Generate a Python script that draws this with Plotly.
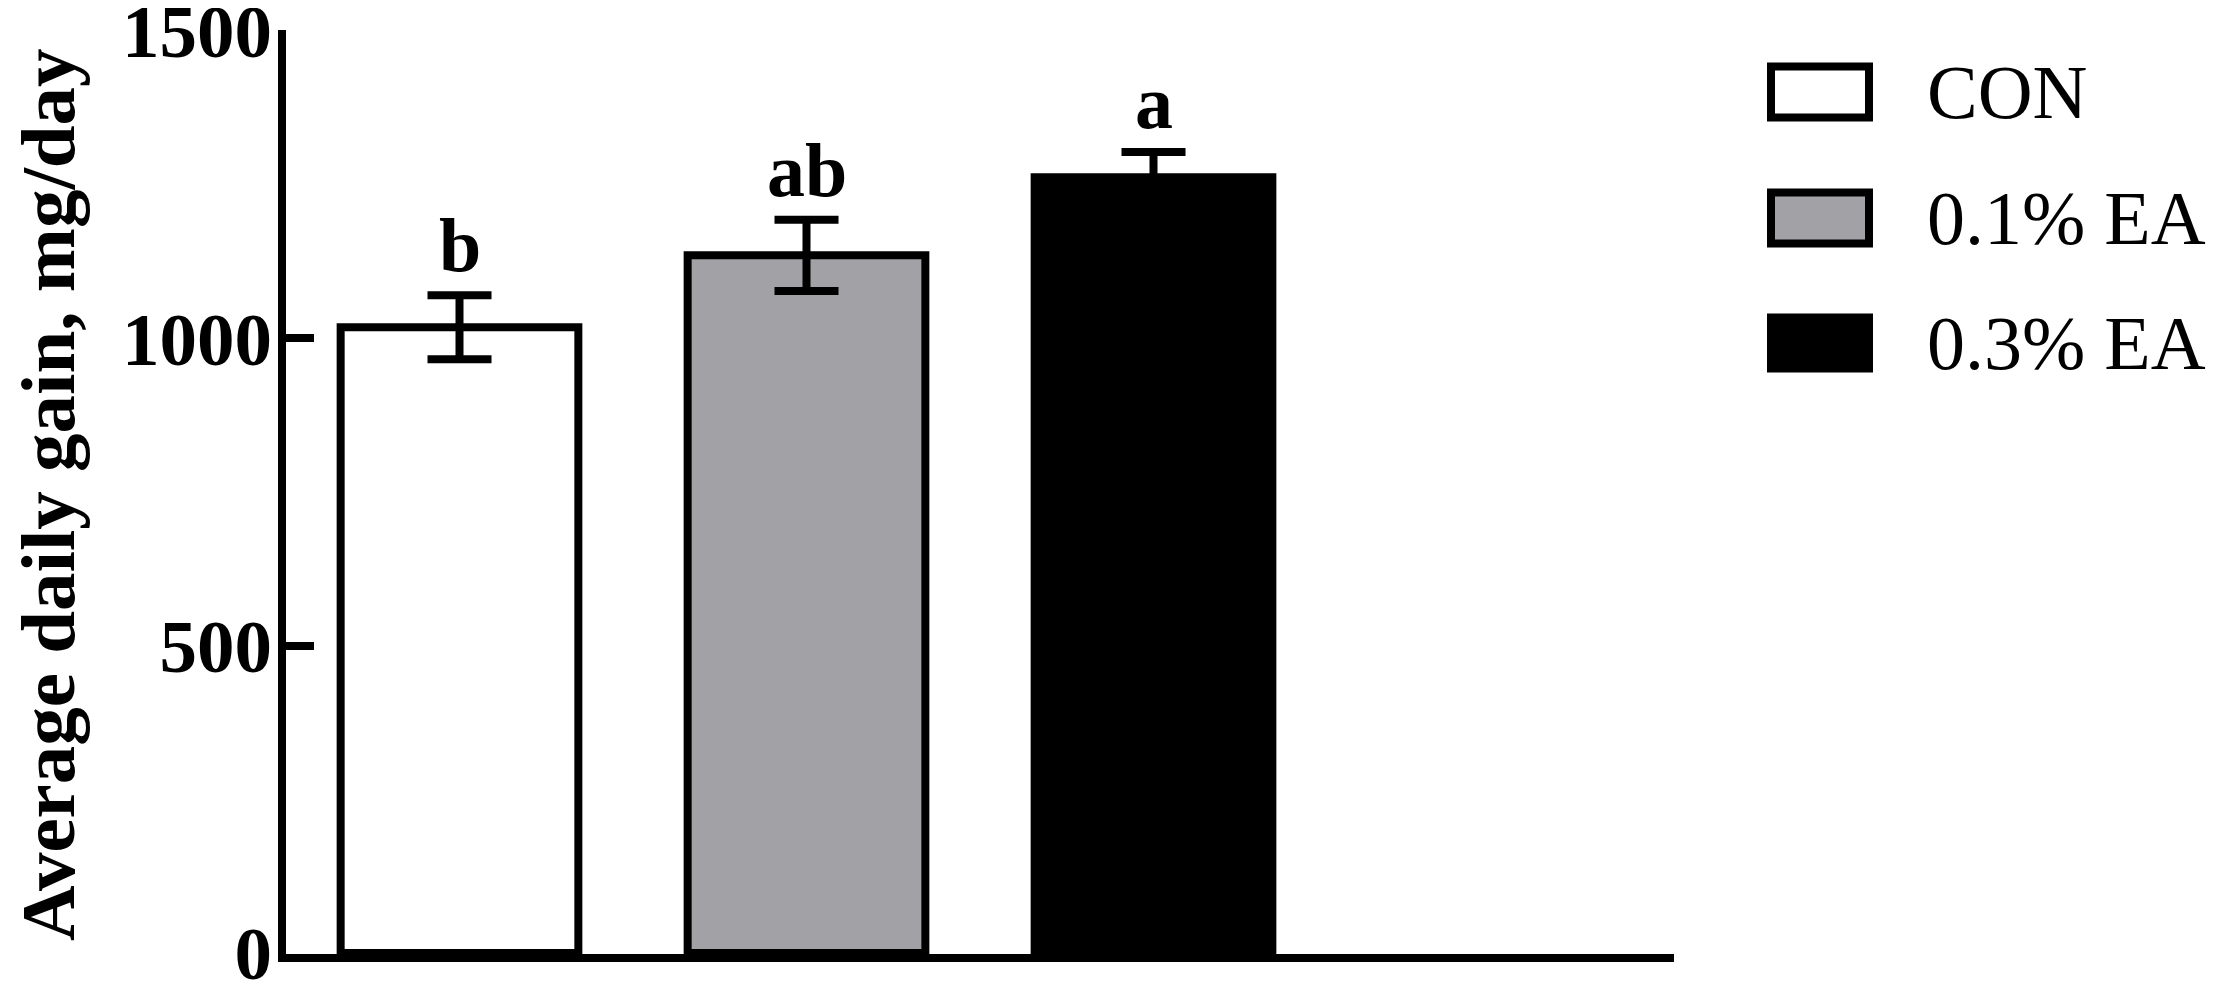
import plotly.graph_objects as go

# ---- data ----
groups = ["CON", "0.1% EA", "0.3% EA"]
adg_mean = [1018, 1135, 1262]
adg_sem = [52, 58, 41]
sig_letters = ["b", "ab", "a"]
y_ticks = [0, 500, 1000, 1500]

# ---- style ----
fills = ["#FFFFFF", "#A2A2A6", "#000000"]
PAGE_W, PAGE_H = 2217, 991
OFF = 8  # default body margin of the html page
W, H = PAGE_W - OFF, PAGE_H - OFF
ML, MR, MT, MB = 278, 543, 22, 37
SERIF = "Liberation Serif, Times New Roman, serif"

fig = go.Figure()
fig.add_trace(go.Bar(
    x=groups, y=adg_mean,
    width=0.685,
    marker=dict(color=fills, line=dict(color="black", width=8)),
    error_y=dict(type="data", array=adg_sem, visible=True,
                 color="black", thickness=8, width=32),
    showlegend=False,
    hoverinfo="skip",
))

# significance letters
for g, m, s, lab in zip(groups, adg_mean, adg_sem, sig_letters):
    fig.add_annotation(x=g, y=m + s, text=f"<b>{lab}</b>", showarrow=False,
                       yanchor="bottom", yshift=6,
                       font=dict(family=SERIF, size=76, color="black"))

# helpers: page pixel -> paper coords
pw = W - ML - MR
ph = H - MT - MB
def px(x):
    return (x - OFF - ML) / pw
def py(y):
    return (H - MB - (y - OFF)) / ph

# y-axis title as rotated annotation
fig.add_annotation(xref="paper", yref="paper", x=px(48), y=py(495),
                   text="<b>Average daily gain, mg/day</b>", textangle=-90,
                   showarrow=False, xanchor="center", yanchor="middle",
                   borderpad=0,
                   font=dict(family=SERIF, size=77, color="black"))

# legend drawn as shapes + text
row_centers = [92, 218, 343]
box_l, box_r, box_h = 1771, 1869, 51
for c, fill, lab in zip(row_centers, fills, groups):
    fig.add_shape(type="rect", xref="paper", yref="paper",
                  x0=px(box_l), x1=px(box_r),
                  y0=py(c + box_h / 2), y1=py(c - box_h / 2),
                  line=dict(color="black", width=8), fillcolor=fill)
    fig.add_annotation(xref="paper", yref="paper", x=px(1925), y=py(c),
                       text=lab, showarrow=False, xanchor="left", yanchor="middle",
                       font=dict(family=SERIF, size=76, color="black"))

fig.update_layout(
    width=W, height=H,
    margin=dict(l=ML, r=MR, t=MT, b=MB, pad=0, autoexpand=False),
    plot_bgcolor="white", paper_bgcolor="white",
    xaxis=dict(
        range=[-0.5, 3.5], showticklabels=False, ticks="",
        showline=True, linecolor="black", linewidth=8,
        showgrid=False, zeroline=False, fixedrange=True, automargin=False,
    ),
    yaxis=dict(
        range=[-1.5, 1501.5], tickvals=y_ticks, ticktext=[f"<b>{v}</b>" for v in y_ticks],
        ticks="inside", ticklen=28, tickwidth=8, tickcolor="black",
        showline=True, linecolor="black", linewidth=8,
        showgrid=False, zeroline=False, ticklabelstandoff=-9,
        ticklabeloverflow="allow", automargin=False,
        tickfont=dict(family=SERIF, size=75, color="black"),
    ),
)

fig.write_html("out.html")
